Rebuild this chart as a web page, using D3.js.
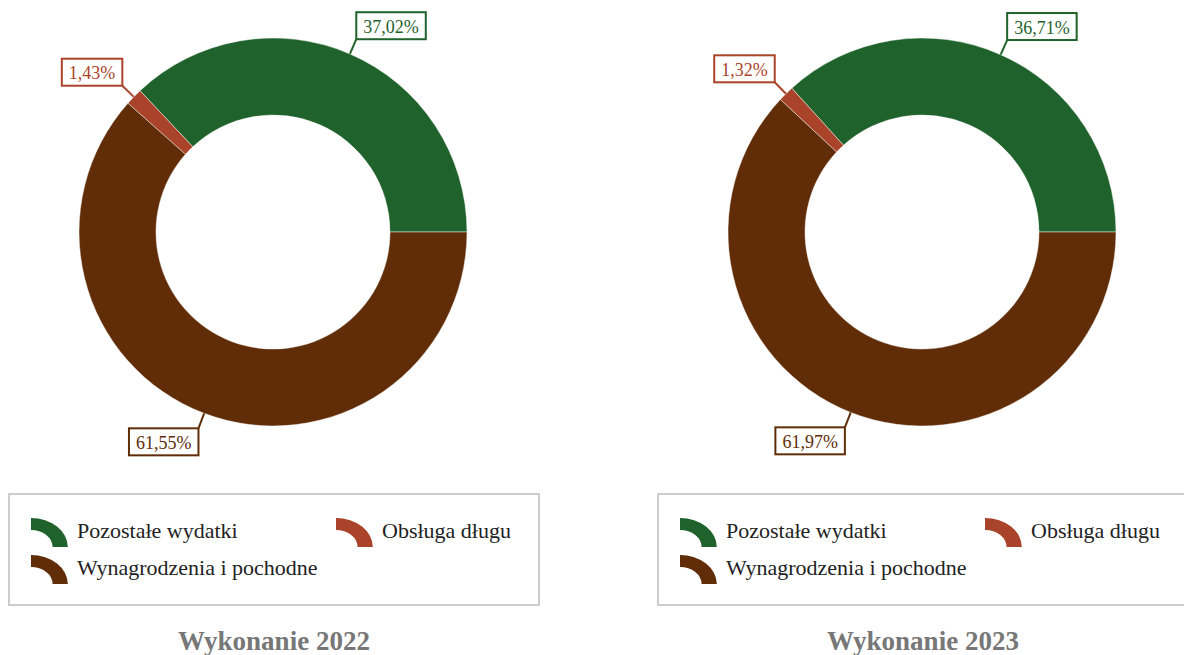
<!DOCTYPE html>
<html>
<head>
<meta charset="utf-8">
<script src="https://cdn.jsdelivr.net/npm/d3@7"></script>
<style>
  body { margin: 0; background: #fff; }
  text { font-family: "Liberation Serif", "Times New Roman", serif; }
</style>
</head>
<body>
<div class="main"></div>
<script>
const categories = ['Pozostałe wydatki', 'Obsługa długu', 'Wynagrodzenia i pochodne']
const colors = ['#1f622b', '#a9442a', '#602d08']
const titles = ['Wykonanie 2022', 'Wykonanie 2023']
const values2022 = [37.02, 1.43, 61.55]
const values2023 = [36.71, 1.32, 61.97]

let width = 1184, height = 655
let svg = d3.select('.main').append('svg')
  .attr('width', width).attr('height', height)

let charts = [
  {cx: 273, values: values2022, title: titles[0]},
  {cx: 922, values: values2023, title: titles[1]}
]

let cy = 232
let outerR = 194, innerR = 117, labelR = 210

let pie = d3.pie().sort(null)
  .startAngle(Math.PI / 2)
  .endAngle(Math.PI / 2 - 2 * Math.PI)

let arc = d3.arc().innerRadius(innerR).outerRadius(outerR)
let fmt = v => v.toFixed(2).replace('.', ',') + '%'

charts.forEach(ch => {
  let g = svg.append('g').attr('transform', `translate(${ch.cx}, ${cy})`)
  let arcs = pie(ch.values)

  g.selectAll('path').data(arcs).enter().append('path')
    .attr('d', arc)
    .attr('fill', (d, i) => colors[i])
    .attr('stroke', 'rgba(255,255,255,0.45)')
    .attr('stroke-width', 1)

  // labels with leader lines
  arcs.forEach((d, i) => {
    let a = (d.startAngle + d.endAngle) / 2
    let sx = Math.sin(a) * outerR, sy = -Math.cos(a) * outerR
    let px = Math.sin(a) * labelR, py = -Math.cos(a) * labelR
    g.append('line')
      .attr('x1', sx).attr('y1', sy).attr('x2', px).attr('y2', py)
      .attr('stroke', colors[i]).attr('stroke-width', 2)

    let lg = g.append('g')
    let rect = lg.append('rect')
    let t = lg.append('text')
      .attr('font-size', 18)
      .attr('fill', colors[i])
      .attr('text-anchor', 'middle')
      .attr('dominant-baseline', 'central')
      .text(fmt(ch.values[i]))
    let tw = t.node().getComputedTextLength()
    let w = tw + 14, h = 27
    let bx = px >= 0 ? px : px - w
    let by = py < 0 ? py - h : py
    rect.attr('x', bx).attr('y', by).attr('width', w).attr('height', h)
      .attr('fill', '#fff').attr('stroke', colors[i]).attr('stroke-width', 2)
    t.attr('x', bx + w / 2).attr('y', by + h / 2 + 1)
  })

  // legend
  let leg = svg.append('g').attr('transform', `translate(${ch.cx - 264}, 494)`)
  leg.append('rect')
    .attr('width', 530).attr('height', 111)
    .attr('fill', '#fff').attr('stroke', '#cccccc').attr('stroke-width', 2)

  let iconArc = d3.arc().innerRadius(17).outerRadius(29).startAngle(0).endAngle(Math.PI / 2)
  let pos = [[22, 24], [327, 24], [22, 61]]
  categories.forEach((c, i) => {
    let item = leg.append('g').attr('transform', `translate(${pos[i][0]}, ${pos[i][1]})`)
    item.append('path')
      .attr('d', iconArc)
      .attr('transform', 'translate(0, 29) scale(1.27, 1)')
      .attr('fill', colors[i])
    item.append('text')
      .attr('x', 46).attr('y', 20)
      .attr('font-size', 22)
      .attr('fill', '#222')
      .text(c)
  })

  svg.append('text')
    .attr('x', ch.cx + 1).attr('y', 650)
    .attr('text-anchor', 'middle')
    .attr('font-size', 27)
    .attr('font-weight', 'bold')
    .attr('fill', '#777')
    .text(ch.title)
})
</script>
</body>
</html>
